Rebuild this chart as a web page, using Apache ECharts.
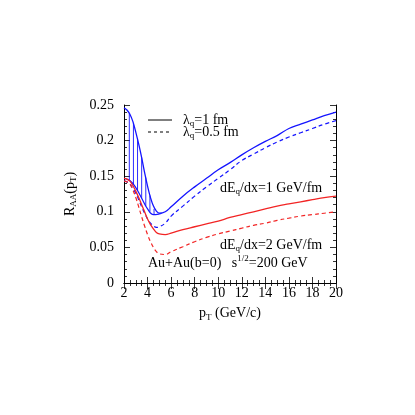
<!DOCTYPE html>
<html>
<head>
<meta charset="utf-8">
<script src="https://cdn.jsdelivr.net/npm/echarts@6/dist/echarts.min.js"></script>
<style>
  html, body { margin: 0; padding: 0; background: #fff; }
  #chart { width: 415px; height: 415px; }
</style>
</head>
<body>
<div id="chart"></div>
<script>
// pT points (GeV/c)
var pt = [2, 2.25, 2.5, 2.75, 3, 3.25, 3.5, 3.75, 4, 4.25, 4.5, 4.75, 5, 5.5, 6, 7, 8, 9, 10, 11, 12, 13, 14, 15, 16, 17, 18, 19, 20];

// dE/dx = 1 GeV/fm
var blueSolid  = [0.246, 0.243, 0.237, 0.227, 0.212, 0.195, 0.176, 0.155, 0.136, 0.120, 0.108, 0.101, 0.098, 0.100, 0.107, 0.122, 0.135, 0.147, 0.159, 0.169, 0.180, 0.190, 0.199, 0.207, 0.217, 0.223, 0.229, 0.235, 0.240];
var blueDashed = [0.143, 0.142, 0.139, 0.133, 0.126, 0.117, 0.107, 0.098, 0.090, 0.084, 0.080, 0.078, 0.079, 0.084, 0.094, 0.108, 0.122, 0.135, 0.147, 0.159, 0.172, 0.181, 0.190, 0.198, 0.205, 0.211, 0.217, 0.223, 0.228];

// dE/dx = 2 GeV/fm
var redSolid  = [0.147, 0.146, 0.143, 0.137, 0.129, 0.120, 0.110, 0.100, 0.090, 0.082, 0.076, 0.071, 0.069, 0.068, 0.070, 0.075, 0.079, 0.083, 0.087, 0.092, 0.096, 0.100, 0.104, 0.108, 0.111, 0.114, 0.117, 0.120, 0.122];
var redDashed = [0.143, 0.142, 0.139, 0.131, 0.120, 0.107, 0.093, 0.080, 0.068, 0.058, 0.050, 0.044, 0.041, 0.040, 0.044, 0.051, 0.058, 0.064, 0.069, 0.073, 0.077, 0.081, 0.084, 0.088, 0.091, 0.094, 0.096, 0.098, 0.100];

// lower edge of the hatched band
var bandX     = [2, 2.5, 3, 3.5, 4, 4.5, 5, 5.2];
var bandLower = [0.147, 0.144, 0.134, 0.119, 0.104, 0.096, 0.097, 0.098];

// hatch lines
var hatchX      = [2.45, 2.8, 3.15, 3.5, 3.85, 4.2, 4.55];
var hatchTop    = [0.238, 0.225, 0.202, 0.176, 0.148, 0.123, 0.104];
var hatchBottom = [0.144, 0.139, 0.130, 0.119, 0.108, 0.100, 0.096];

var BLUE = '#1414ff';
var RED = '#f22424';
var FONT = 'Liberation Serif';

function pairs(xs, ys) {
  return xs.map(function (x, i) { return [x, ys[i]]; });
}

var chart = echarts.init(document.getElementById('chart'));

var tickStyle = { inside: true, length: 6, lineStyle: { color: '#000', width: 0.8 } };
var minorStyle = { show: true, length: 3, lineStyle: { color: '#000', width: 0.8 } };
var axisLine = { show: true, lineStyle: { color: '#000', width: 1 } };

var subRich = {
  n: { fontFamily: FONT, fontSize: 14, color: '#000' },
  s: { fontFamily: FONT, fontSize: 9, color: '#000', padding: [8, 0, 0, 0] },
  p: { fontFamily: FONT, fontSize: 9, color: '#000', padding: [0, 0, 8, 0] }
};

var option = {
  animation: false,
  backgroundColor: '#fff',
  grid: { left: 124, right: 79, top: 105, bottom: 132 },
  xAxis: [{
    type: 'value', min: 2, max: 20, interval: 2,
    axisLine: axisLine, axisTick: tickStyle,
    minorTick: Object.assign({ splitNumber: 4 }, minorStyle),
    splitLine: { show: false },
    axisLabel: { color: '#000', fontFamily: FONT, fontSize: 14, margin: 3 },
    name: '{n|p}{s|T}{n| (GeV/c)}', nameLocation: 'middle', nameGap: 22,
    nameTextStyle: { rich: subRich }
  }, {
    type: 'value', min: 2, max: 20, interval: 2, position: 'top',
    axisLine: axisLine, axisTick: tickStyle,
    minorTick: Object.assign({ splitNumber: 4 }, minorStyle),
    splitLine: { show: false }, axisLabel: { show: false }
  }],
  yAxis: [{
    type: 'value', min: 0, max: 0.25, interval: 0.05,
    axisLine: axisLine, axisTick: tickStyle,
    minorTick: Object.assign({ splitNumber: 5 }, minorStyle),
    splitLine: { show: false },
    axisLabel: { color: '#000', fontFamily: FONT, fontSize: 14, margin: 10 },
    name: '{n|R}{s|AA}{n|(p}{s|T}{n|)}', nameLocation: 'middle', nameGap: 42, nameRotate: 90,
    nameTextStyle: { rich: subRich }
  }, {
    type: 'value', min: 0, max: 0.25, interval: 0.05, position: 'right',
    axisLine: axisLine, axisTick: tickStyle,
    minorTick: Object.assign({ splitNumber: 5 }, minorStyle),
    splitLine: { show: false }, axisLabel: { show: false }
  }],
  series: [
    {
      type: 'custom',
      data: hatchX.map(function (x, i) { return [x, hatchTop[i], hatchBottom[i]]; }),
      renderItem: function (params, api) {
        var a = api.coord([api.value(0), api.value(1)]);
        var b = api.coord([api.value(0), api.value(2)]);
        return {
          type: 'line',
          shape: { x1: a[0], y1: a[1], x2: b[0], y2: b[1] },
          style: { stroke: BLUE, lineWidth: 0.9 }
        };
      },
      z: 1
    },
    { type: 'line', data: pairs(bandX, bandLower), smooth: 0.4, symbol: 'none',
      lineStyle: { color: BLUE, width: 1.2 } },
    { type: 'line', data: pairs(pt, blueSolid), smooth: 0.4, symbol: 'none',
      lineStyle: { color: BLUE, width: 1.3 } },
    { type: 'line', data: pairs(pt, blueDashed), smooth: 0.4, symbol: 'none',
      lineStyle: { color: BLUE, width: 1.2, type: [4, 3] } },
    { type: 'line', data: pairs(pt, redSolid), smooth: 0.4, symbol: 'none',
      lineStyle: { color: RED, width: 1.3 } },
    { type: 'line', data: pairs(pt, redDashed), smooth: 0.4, symbol: 'none',
      lineStyle: { color: RED, width: 1.2, type: [4, 3] } }
  ],
  graphic: [
    { type: 'line', shape: { x1: 148, y1: 120, x2: 172, y2: 120 },
      style: { stroke: '#000', lineWidth: 1 } },
    { type: 'line', shape: { x1: 148, y1: 132, x2: 172, y2: 132 },
      style: { stroke: '#000', lineWidth: 1, lineDash: [3, 3] } },
    { type: 'text', x: 183, y: 120,
      style: { text: '{n|λ}{s|q}{n|=1 fm}', rich: subRich, verticalAlign: 'middle' } },
    { type: 'text', x: 183, y: 132,
      style: { text: '{n|λ}{s|q}{n|=0.5 fm}', rich: subRich, verticalAlign: 'middle' } },
    { type: 'text', x: 220, y: 188,
      style: { text: '{n|dE}{s|q}{n|/dx=1 GeV/fm}', rich: subRich, verticalAlign: 'middle' } },
    { type: 'text', x: 220, y: 245,
      style: { text: '{n|dE}{s|q}{n|/dx=2 GeV/fm}', rich: subRich, verticalAlign: 'middle' } },
    { type: 'text', x: 148, y: 263,
      style: { text: '{n|Au+Au(b=0)   s}{p|1/2}{n|=200 GeV}', rich: subRich, verticalAlign: 'middle' } }
  ]
};

chart.setOption(option);
</script>
</body>
</html>
